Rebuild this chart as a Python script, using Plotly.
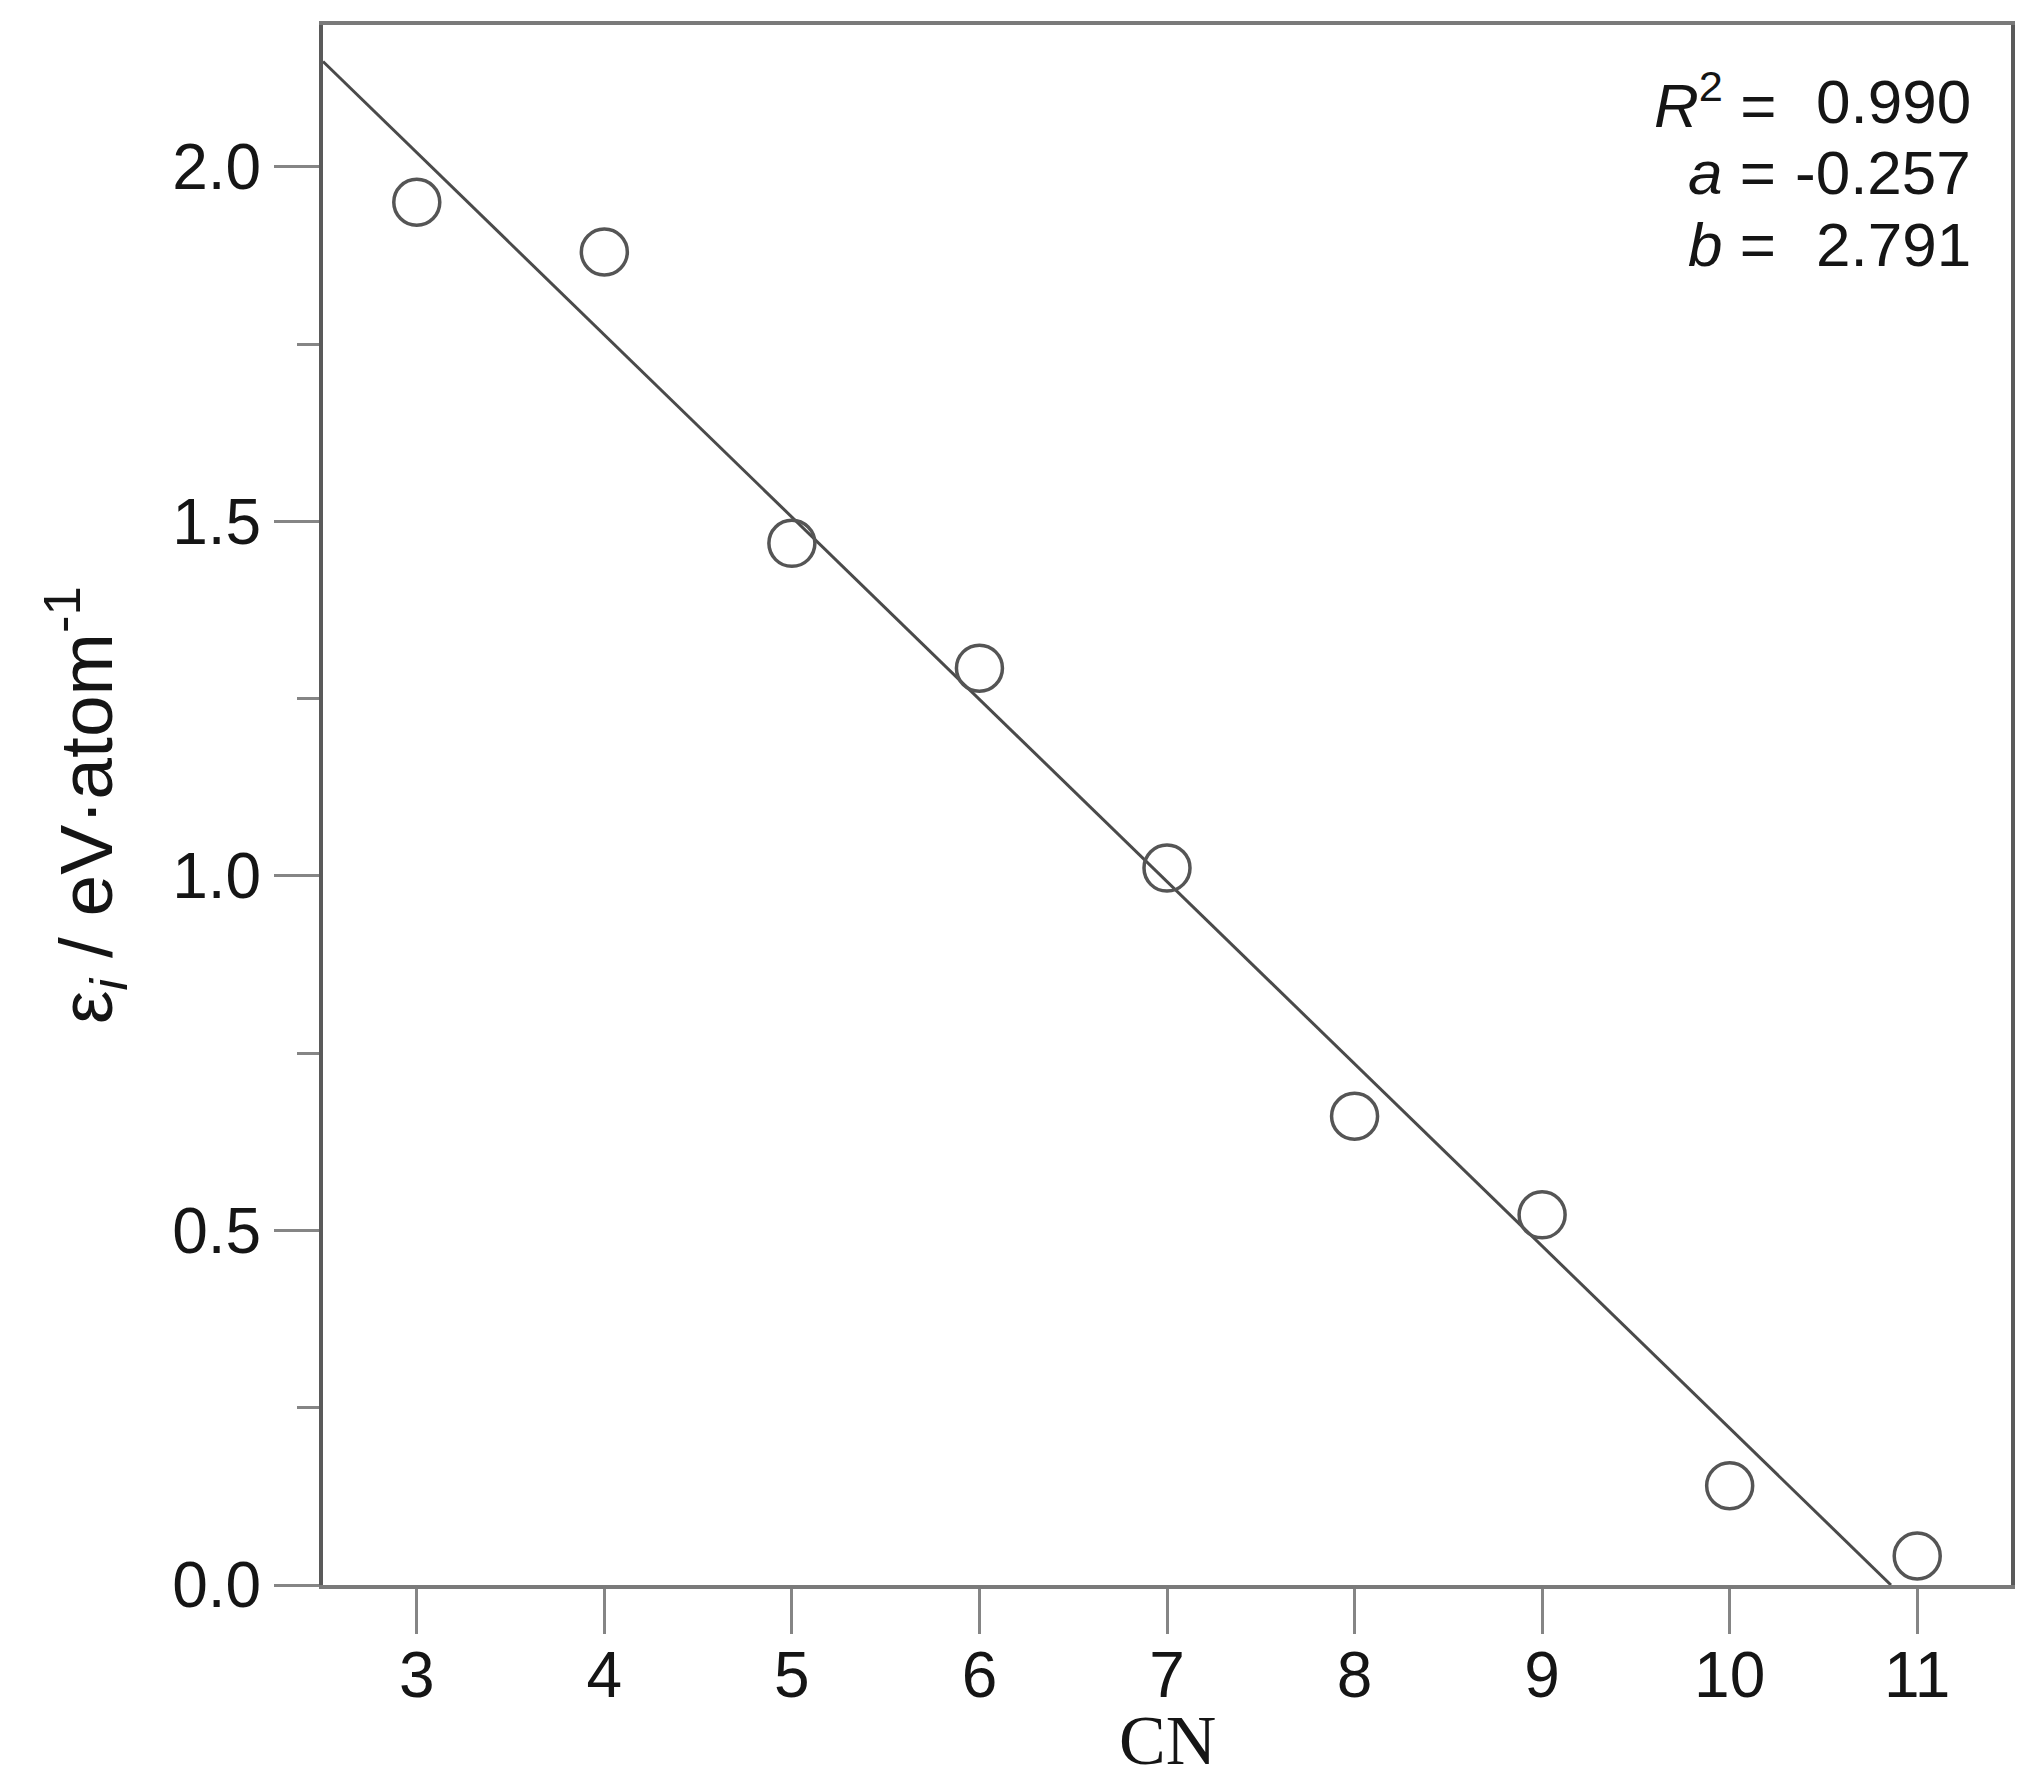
import plotly.graph_objects as go

# ---- data ----
cn = [3, 4, 5, 6, 7, 8, 9, 10, 11]
eps = [1.950, 1.880, 1.469, 1.293, 1.011, 0.661, 0.522, 0.140, 0.041]

fit_r2 = "0.990"
fit_a = -0.257
fit_b = 2.791

x_ticks = [3, 4, 5, 6, 7, 8, 9, 10, 11]
y_ticks = [0.0, 0.5, 1.0, 1.5, 2.0]
y_ticklabels = ["0.0", "0.5", "1.0", "1.5", "2.0"]
y_minor = [0.25, 0.75, 1.25, 1.75]
x_range = [2.5, 11.5]
y_range = [0.0, 2.2]

# fit line from left axis edge to where it reaches zero
line_x = [x_range[0], -fit_b / fit_a]
line_y = [fit_a * line_x[0] + fit_b, 0.0]

W, H = 2026, 1780
L, R, T, B = 315, 23, 17, 203

SANS = "Liberation Sans, Arial, sans-serif"
SERIF = "Liberation Serif, Times New Roman, serif"
TXT = "#151515"

fig = go.Figure()
fig.add_trace(go.Scatter(
    x=line_x, y=line_y, mode="lines",
    line=dict(color="#4a4a4a", width=3),
    hoverinfo="skip", showlegend=False, cliponaxis=True,
))
fig.add_trace(go.Scatter(
    x=cn, y=eps, mode="markers",
    marker=dict(symbol="circle-open", size=46, color="#555555",
                line=dict(color="#555555", width=3.5)),
    showlegend=False, cliponaxis=False,
))

fig.update_layout(
    width=W, height=H, autosize=False,
    margin=dict(l=L, r=R, t=T, b=B, pad=0),
    paper_bgcolor="white", plot_bgcolor="white",
    font=dict(family=SANS, color=TXT),
    xaxis=dict(
        range=x_range, tickmode="array", tickvals=x_ticks,
        ticktext=[str(v) for v in x_ticks],
        ticks="outside", ticklen=45, tickwidth=3, tickcolor="#858585",
        showline=True, linecolor="#7a7a7a", linewidth=4, mirror=True,
        showgrid=False, zeroline=False, ticklabelstandoff=-14,
        tickfont=dict(family=SANS, size=64, color=TXT),
    ),
    yaxis=dict(
        range=y_range, tickmode="array", tickvals=y_ticks,
        ticktext=y_ticklabels,
        ticks="outside", ticklen=45, tickwidth=3, tickcolor="#858585",
        showline=True, linecolor="#5a5a5a", linewidth=4, mirror=True,
        showgrid=False, zeroline=False,
        tickfont=dict(family=SANS, size=64, color=TXT),
        minor=dict(tickmode="array", tickvals=y_minor,
                   ticks="outside", ticklen=22, tickwidth=3,
                   tickcolor="#858585", showgrid=False),
    ),
)

annotations = []
# fit statistics block (top right)
rows = [
    ("<i>R</i><sup>2</sup> =", fit_r2, 76),
    ("<i>a</i> =", f"{fit_a:.3f}", 147),
    ("<i>b</i> =", f"{fit_b:.3f}", 219),
]
for lab, val, dy in rows:
    annotations.append(dict(
        text=lab, xref="paper", yref="paper", x=1, y=1,
        xanchor="right", yanchor="middle", xshift=-233, yshift=-dy,
        showarrow=False, font=dict(family=SANS, size=62, color=TXT),
    ))
    annotations.append(dict(
        text=val, xref="paper", yref="paper", x=1, y=1,
        xanchor="right", yanchor="middle", xshift=-38, yshift=-dy,
        showarrow=False, font=dict(family=SANS, size=62, color=TXT),
    ))

# axis titles
annotations.append(dict(
    text="CN", xref="paper", yref="paper", x=0.5, y=0,
    xanchor="center", yanchor="middle", yshift=-155,
    showarrow=False, font=dict(family=SERIF, size=70, color=TXT),
))
annotations.append(dict(
    text="ε<sub><i>i</i></sub> / eV·atom<sup>-1</sup>",
    xref="paper", yref="paper", x=0, y=0.5,
    xanchor="center", yanchor="middle", xshift=-238,
    textangle=-90, showarrow=False,
    font=dict(family=SANS, size=75, color=TXT),
))
fig.update_layout(annotations=annotations)

fig.write_html("out.html")
